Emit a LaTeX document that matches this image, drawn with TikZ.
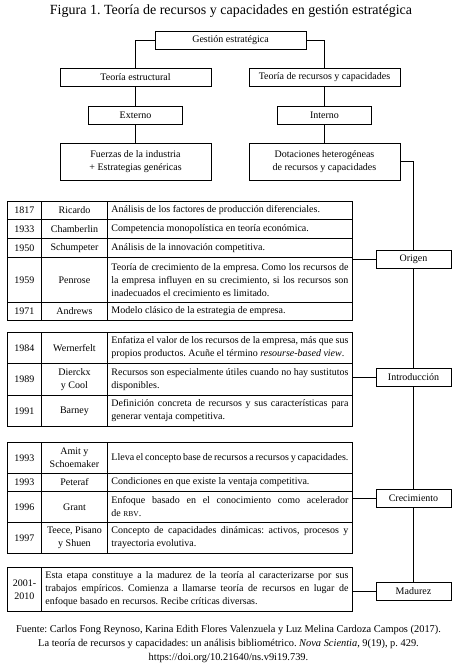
\documentclass[tikz,border=0pt]{standalone}
\usepackage{fontspec}
\setmainfont{Liberation Serif}
\usetikzlibrary{positioning}
\frenchspacing

\begin{document}
\begin{tikzpicture}[x=1pt,y=-1pt,line width=0.9pt,
   font=\fontsize{10}{13}\selectfont,
   caja/.style={draw,fill=white,minimum height=18,inner sep=1pt,align=center},
   etapa/.style={caja,minimum width=75},
   celda/.style={draw,anchor=north west,inner sep=0pt,align=center},
   desc/.style={draw,anchor=north west,inner xsep=4pt,inner ysep=0pt,
                text width=237,align=justify}]
  \useasboundingbox (0,0) rectangle (457,670);
  \node (titulo) at (231,11) {\fontsize{14}{16}\selectfont Figura 1. Teoría de recursos y capacidades en gestión estratégica};

  % arbol superior
  \node[caja,minimum width=151] (gest) at (230.5,40) {Gestión estratégica};
  \node[caja,minimum width=151] (estr) at (135.5,77) {Teoría estructural};
  \node[caja,minimum width=151] (trc) at (324.5,77) {Teoría de recursos y capacidades};
  \node[caja,minimum width=94] (ext) at (135.5,115) {Externo};
  \node[caja,minimum width=94] (int) at (324.5,115) {Interno};
  \node[caja,minimum width=151,minimum height=37] (fuer) at (135.5,161.5)
       {Fuerzas de la industria\\+ Estrategias genéricas};
  \node[caja,minimum width=151,minimum height=37] (dot) at (324.5,161.5)
       {Dotaciones heterogéneas\\de recursos y capacidades};
  \draw (gest.west) -| (estr.north);
  \draw (gest.east) -| (trc.north);
  \draw (estr) -- (ext);
  \draw (ext) -- (fuer);
  \draw (trc) -- (int);
  \draw (int) -- (dot);

  % etapas
  \node[etapa] (origen) at (413.5,259) {Origen};
  \node[etapa] (intro) at (413.5,377) {Introducción};
  \node[etapa] (crec) at (413.5,498) {Crecimiento};
  \node[etapa] (madurez) at (413.5,591) {Madurez};
  \draw (dot.east) -| (origen.north);
  \draw (origen) -- (intro);
  \draw (intro) -- (crec);
  \draw (crec) -- (madurez);

  % tablas
  \foreach \n/\y/\h/\anio/\autor/\texto in {
     ric/201/18/1817/Ricardo/{Análisis de los factores de producción diferenciales.},
     cha/219/19/1933/Chamberlin/{Competencia monopolística en teoría económica.},
     sch/238/19/1950/Schumpeter/{Análisis de la innovación competitiva.},
     pen/257/45/1959/Penrose/{Teoría de crecimiento de la empresa. Como los recursos de\linebreak la empresa influyen en su crecimiento, si los recursos son\linebreak inadecuados el crecimiento es limitado.},
     and/302/18/1971/Andrews/{Modelo clásico de la estrategia de empresa.},
     wer/332/31/1984/Wernerfelt/{Enfatiza el valor de los recursos de la empresa, más que sus\linebreak propios productos. Acuñe el término \textit{resourse-based view}.},
     die/363/32/1989/{Dierckx\\y Cool}/{Recursos son especialmente útiles cuando no hay sustitutos\linebreak disponibles.},
     bar/395/31/1991/Barney/{Definición concreta de recursos y sus características para\linebreak generar ventaja competitiva.},
     ami/442/31/1993/{Amit y\\Schoemaker}/{Lleva el concepto base de recursos a recursos y capacidades.},
     pet/473/18/1993/Peteraf/{Condiciones en que existe la ventaja competitiva.},
     gra/491/31/1996/Grant/{Enfoque basado en el conocimiento como acelerador\linebreak de {\fontsize{7.5}{8}\selectfont RBV}.},
     tee/522/31/1997/{Teece, Pisano\\y Shuen}/{Concepto de capacidades dinámicas: activos, procesos y\linebreak trayectoria evolutiva.}}
  {
    \node[celda,minimum width=34,minimum height=\h] (a\n) at (7,\y) {\anio};
    \node[celda,minimum width=66,minimum height=\h] (b\n) at (41,\y) {\autor};
    \node[desc,minimum height=\h] (d\n) at (107,\y) {\texto};
  }
  \node[celda,minimum width=34,minimum height=44] (amad) at (7,567) {2001-\\2010};
  \node[desc,text width=303,minimum height=44] (dmad) at (41,567)
       {Esta etapa constituye a la madurez de la teoría al caracterizarse por sus\linebreak trabajos empíricos. Comienza a llamarse teoría de recursos en lugar de\linebreak enfoque basado en recursos. Recibe críticas diversas.};

  \draw (origen.west) -- (origen.west -| dpen.east);
  \draw (intro.west) -- (intro.west -| ddie.east);
  \draw (crec.west) -- (crec.west -| dgra.east);
  \draw (madurez.west) -- (madurez.west -| dmad.east);

  \node[align=center,font=\fontsize{10.4}{14}\selectfont] (fuente) at (228.5,644)
       {Fuente: Carlos Fong Reynoso, Karina Edith Flores Valenzuela y Luz Melina Cardoza Campos (2017).\\
        La teoría de recursos y capacidades: un análisis bibliométrico. \textit{Nova Scientia}, 9(19), p. 429.\\
        https://doi.org/10.21640/ns.v9i19.739.};
\end{tikzpicture}
\end{document}
